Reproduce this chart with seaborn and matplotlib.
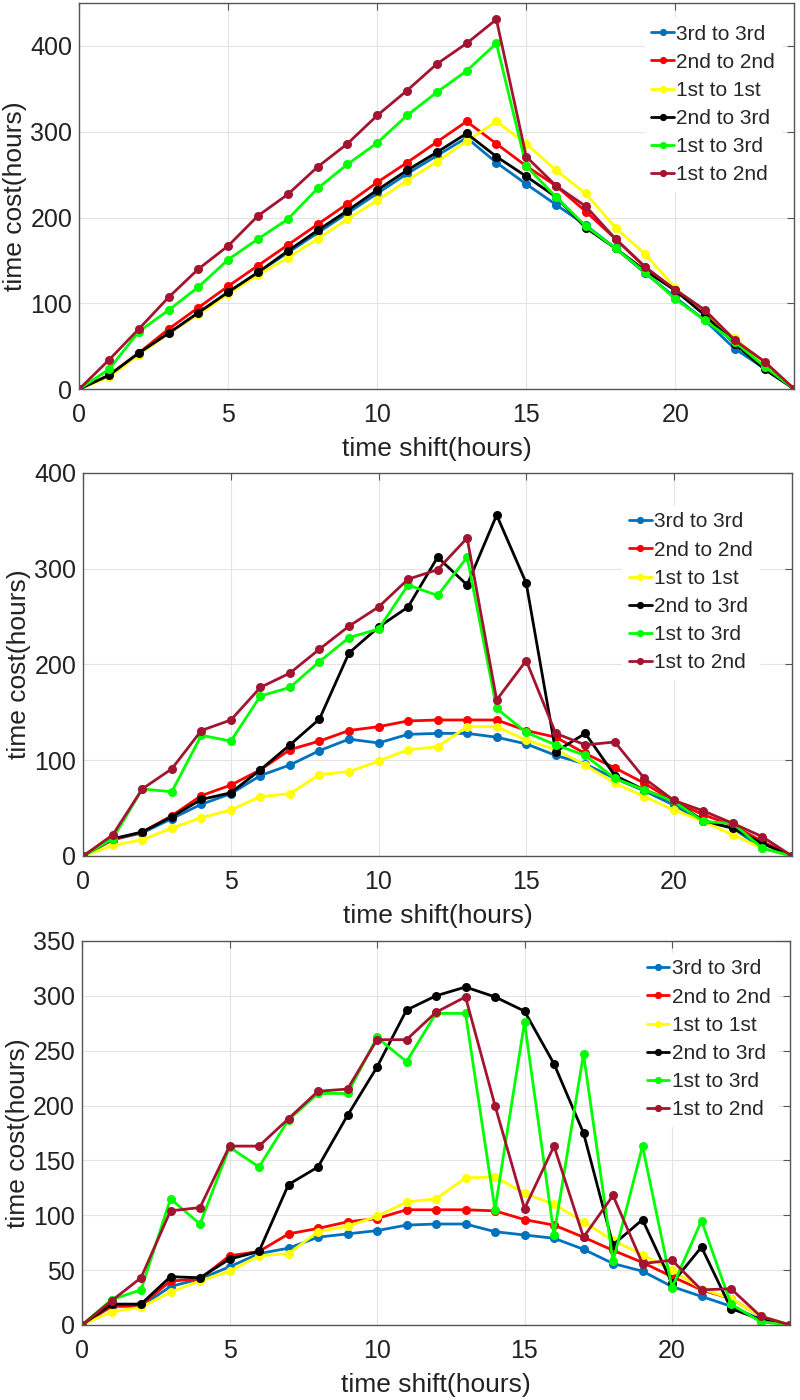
import matplotlib
matplotlib.use("Agg")
import matplotlib.pyplot as plt
import seaborn as sns
import pandas as pd

shift = list(range(25))
series_names = ["3rd to 3rd", "2nd to 2nd", "1st to 1st", "2nd to 3rd", "1st to 3rd", "1st to 2nd"]
colors = ["#0072BD", "#FF0000", "#FFFF00", "#000000", "#00FF00", "#A2142F"]

# Panel 1
p1_3rd_3rd = [0, 16, 42, 65, 89, 113, 136, 159, 182, 205, 228, 251, 272, 293, 264, 239, 215, 191, 164, 135, 107, 80, 47, 24, 0]
p1_2nd_2nd = [0, 16, 42, 70, 95, 120, 144, 168, 192, 216, 241, 264, 288, 312, 286, 260, 237, 207, 175, 142, 115, 88, 55, 28, 0]
p1_1st_1st = [0, 14, 40, 65, 87, 111, 133, 153, 175, 198, 220, 243, 265, 289, 312, 286, 255, 228, 188, 157, 118, 86, 60, 28, 0]
p1_2nd_3rd = [0, 16, 42, 65, 89, 113, 136, 161, 185, 208, 232, 255, 276, 298, 271, 248, 224, 188, 164, 138, 115, 86, 53, 23, 0]
p1_1st_3rd = [0, 23, 67, 92, 119, 151, 175, 198, 234, 262, 287, 319, 346, 371, 403, 260, 224, 190, 164, 136, 105, 80, 55, 26, 0]
p1_1st_2nd = [0, 34, 70, 107, 140, 167, 202, 227, 259, 286, 319, 348, 379, 403, 431, 271, 237, 213, 175, 142, 116, 92, 57, 32, 0]

# Panel 2
p2_3rd_3rd = [0, 17, 24, 39, 54, 65, 84, 95, 110, 122, 118, 127, 128, 128, 124, 117, 105, 96, 81, 68, 53, 36, 29, 8, 0]
p2_2nd_2nd = [0, 17, 25, 42, 63, 74, 90, 111, 120, 131, 135, 141, 142, 142, 142, 131, 124, 107, 92, 76, 57, 43, 32, 15, 0]
p2_1st_1st = [0, 11, 17, 29, 40, 48, 62, 65, 85, 88, 99, 111, 114, 135, 135, 121, 111, 95, 76, 62, 48, 36, 22, 8, 0]
p2_2nd_3rd = [0, 18, 25, 41, 59, 66, 90, 116, 143, 212, 239, 260, 312, 283, 356, 285, 109, 128, 84, 69, 57, 37, 29, 13, 0]
p2_1st_3rd = [0, 18, 70, 67, 126, 120, 167, 176, 203, 228, 237, 283, 272, 312, 154, 129, 116, 105, 81, 69, 57, 36, 34, 8, 0]
p2_1st_2nd = [0, 22, 70, 91, 131, 142, 176, 191, 216, 240, 260, 289, 299, 332, 163, 204, 128, 116, 119, 81, 58, 47, 34, 20, 0]

# Panel 3
p3_3rd_3rd = [0, 17, 17, 35, 42, 53, 65, 70, 80, 83, 86, 91, 92, 92, 85, 82, 79, 69, 56, 49, 35, 26, 17, 5, 0]
p3_2nd_2nd = [0, 17, 18, 40, 42, 63, 67, 83, 88, 94, 97, 105, 105, 105, 104, 96, 91, 80, 68, 57, 44, 32, 24, 8, 0]
p3_1st_1st = [0, 12, 16, 30, 40, 49, 63, 65, 85, 90, 99, 112, 115, 134, 135, 120, 110, 94, 77, 64, 50, 33, 24, 8, 0]
p3_2nd_3rd = [0, 19, 19, 44, 43, 60, 67, 128, 144, 191, 235, 287, 300, 308, 299, 286, 238, 175, 73, 96, 38, 71, 15, 5, 0]
p3_1st_3rd = [0, 23, 32, 115, 92, 162, 144, 187, 211, 211, 262, 240, 284, 284, 105, 276, 82, 247, 58, 163, 34, 95, 19, 3, 0]
p3_1st_2nd = [0, 22, 43, 104, 107, 163, 163, 188, 213, 215, 260, 260, 285, 299, 200, 106, 163, 80, 118, 56, 59, 32, 33, 8, 0]

panels = [
    [p1_3rd_3rd, p1_2nd_2nd, p1_1st_1st, p1_2nd_3rd, p1_1st_3rd, p1_1st_2nd],
    [p2_3rd_3rd, p2_2nd_2nd, p2_1st_1st, p2_2nd_3rd, p2_1st_3rd, p2_1st_2nd],
    [p3_3rd_3rd, p3_2nd_2nd, p3_1st_1st, p3_2nd_3rd, p3_1st_3rd, p3_1st_2nd],
]
ylims = [(0, 450), (0, 400), (0, 350)]
yticks = [[0, 100, 200, 300, 400], [0, 100, 200, 300, 400], [0, 50, 100, 150, 200, 250, 300, 350]]
xticks = [0, 5, 10, 15, 20]

sns.set_theme(style="whitegrid")
plt.rcParams["font.family"] = ["Liberation Sans", "DejaVu Sans"]

fig = plt.figure(figsize=(8, 14), dpi=100)
positions = [
    [0.099, 0.7221, 0.894, 0.2757],
    [0.104, 0.3886, 0.886, 0.2736],
    [0.1025, 0.0536, 0.885, 0.2743],
]
legend_anchors = [(0.9814, 0.9604), (0.953, 0.913), (0.981, 0.968)]

for pi, (pos, data) in enumerate(zip(positions, panels)):
    ax = fig.add_axes(pos)
    frames = []
    for name, vals in zip(series_names, data):
        frames.append(pd.DataFrame({"shift": shift, "cost": vals, "series": name}))
    df = pd.concat(frames, ignore_index=True)
    sns.lineplot(data=df, x="shift", y="cost", hue="series", hue_order=series_names,
                 palette=colors, marker="o", markersize=6.5, markeredgewidth=0,
                 linewidth=2, ax=ax, sort=False, estimator=None)
    ax.set_xlim(0, 24)
    ax.set_ylim(*ylims[pi])
    ax.set_xticks(xticks)
    ax.set_yticks(yticks[pi])
    ax.set_xlabel("time shift(hours)", fontsize=19, color="#222222", labelpad=7)
    ax.set_ylabel("time cost(hours)", fontsize=19, color="#222222", labelpad=2)
    ax.tick_params(axis="both", labelsize=18, labelcolor="#222222", direction="in",
                   length=5, width=0.8, top=True, right=True, pad=5, color="#555555")
    ax.tick_params(axis="x", pad=10)
    ax.grid(True, color="#e3e3e3", linewidth=0.8)
    for s in ax.spines.values():
        s.set_color("#555555")
        s.set_linewidth(1.0)
    leg = ax.legend(loc="upper right", bbox_to_anchor=legend_anchors[pi], fontsize=15,
                    frameon=True, handlelength=1.1, handletextpad=0.1, borderpad=0.3,
                    labelspacing=0.44, borderaxespad=0.0, markerscale=0.8)
    leg.get_frame().set_edgecolor("white")
    leg.get_frame().set_facecolor("white")
    leg.get_frame().set_alpha(1.0)

fig.savefig("out.png", dpi=100)
